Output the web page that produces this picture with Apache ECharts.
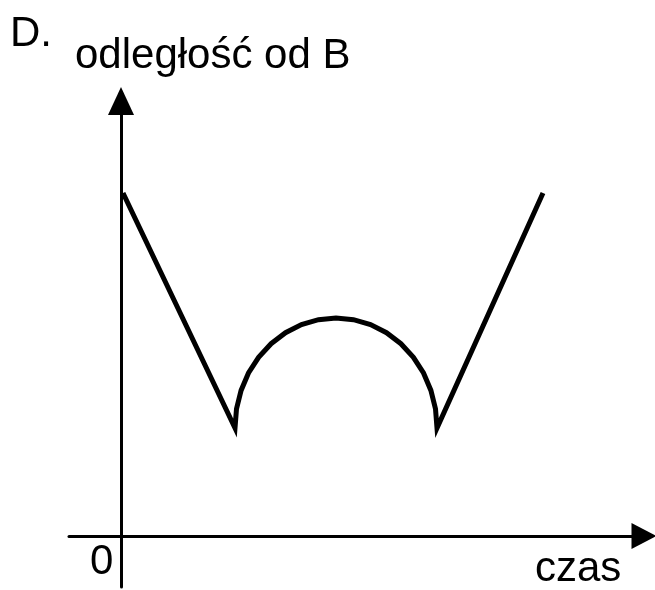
<!DOCTYPE html>
<html>
<head>
<meta charset="utf-8">
<script src="https://cdn.jsdelivr.net/npm/echarts@6/dist/echarts.min.js"></script>
<style>
html,body{margin:0;padding:0;background:#fff;}
#c{width:655px;height:590px;}
</style>
</head>
<body>
<div id="c"></div>
<script>
// Data (time units, distance units)
const panelLabel = 'D.';
const yAxisTitle = 'odległość od B';
const xAxisTitle = 'czas';
const originLabel = '0';

const timeValues = [0.2, 11.4, 11.55, 12.01, 12.75, 13.76, 15.01, 16.45, 18.05, 19.75, 21.5,
                    23.25, 24.95, 26.55, 27.99, 29.24, 30.25, 30.99, 31.45, 31.6, 42.2];
const distanceValues = [34.3, 10.8, 12.71, 14.56, 16.3, 17.87, 19.23, 20.33, 21.14, 21.63, 21.8,
                        21.63, 21.14, 20.33, 19.23, 17.87, 16.3, 14.56, 12.71, 10.8, 34.3];

const seriesData = timeValues.map((t, i) => [t, distanceValues[i]]);

const chart = echarts.init(document.getElementById('c'), null, {renderer: 'canvas'});
const font = '"Liberation Sans", Arial, sans-serif';
chart.setOption({
  animation: false,
  backgroundColor: '#ffffff',
  grid: {left: 69, right: 11, top: 101, bottom: 3},
  xAxis: {
    type: 'value', min: -5.2, max: 52.3,
    axisLine: {show: true, onZero: true, lineStyle: {color: '#000', width: 3},
      symbol: ['none', 'triangle'], symbolSize: [26, 25]},
    axisTick: {show: false}, axisLabel: {show: false}, splitLine: {show: false}
  },
  yAxis: {
    type: 'value', min: -5.1, max: 43.5,
    axisLine: {show: true, onZero: true, lineStyle: {color: '#000', width: 3},
      symbol: ['none', 'triangle'], symbolSize: [26, 28]},
    axisTick: {show: false}, axisLabel: {show: false}, splitLine: {show: false}
  },
  series: [{
    type: 'line',
    data: seriesData,
    showSymbol: false,
    symbol: 'none',
    lineStyle: {color: '#000', width: 5, join: 'miter', cap: 'butt'},
    clip: false
  }],
  graphic: [
    {type: 'text', left: 10, top: 13, style: {text: panelLabel, font: '42px ' + font, fill: '#000'}},
    {type: 'text', left: 75, top: 35, style: {text: yAxisTitle, font: '42px ' + font, fill: '#000'}},
    {type: 'text', left: 90, top: 541, style: {text: originLabel, font: '42px ' + font, fill: '#000'}},
    {type: 'text', left: 535, top: 548, style: {text: xAxisTitle, font: '42px ' + font, fill: '#000'}}
  ]
});
</script>
</body>
</html>
